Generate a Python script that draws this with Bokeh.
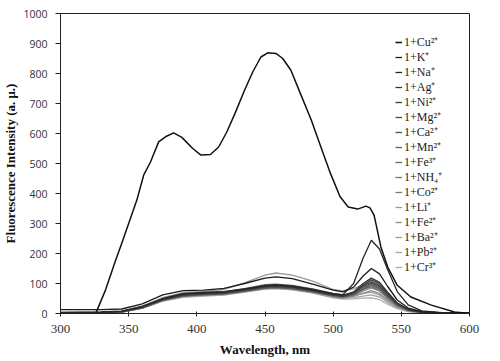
from bokeh.plotting import figure
from bokeh.models import Range1d, FixedTicker, Legend, LegendItem
from bokeh.embed import file_html
from bokeh.resources import INLINE

# ---- data ----
wl_big = [326, 333, 340, 345, 350, 356, 361, 366, 372, 377, 383, 389, 397, 403, 410, 416,
          422, 428, 435, 441, 447, 452, 458, 463, 469, 476, 484, 491, 498, 505, 511, 518,
          524, 527, 530, 535, 540, 547, 557, 572, 589, 600]
cu = [2, 78, 172, 235, 300, 378, 461, 505, 572, 589, 602, 587, 550, 528, 530, 555,
      605, 667, 744, 805, 855, 869, 867, 850, 811, 733, 644, 555, 467, 390, 355, 348,
      358, 352, 328, 222, 155, 94, 55, 28, 5, 0]

wl = [300, 330, 345, 360, 375, 390, 405, 420, 435, 450, 458, 470, 485, 500, 507, 515,
      522, 528, 534, 540, 547, 555, 565, 580, 600]
k_ = [13, 13, 15, 32, 62, 76, 78, 84, 100, 118, 122, 116, 98, 78, 72, 88, 125, 150, 132, 90, 45, 18, 6, 2, 0]
na = [4, 5, 8, 24, 50, 66, 70, 73, 82, 93, 95, 91, 80, 66, 62, 100, 185, 244, 215, 146, 73, 29, 9, 3, 0]
ag = [3, 4, 7, 22, 48, 64, 68, 71, 80, 91, 93, 89, 78, 64, 60, 72, 100, 118, 104, 71, 35, 14, 5, 2, 0]
ni = [3, 4, 7, 21, 47, 62, 66, 69, 79, 90, 92, 88, 77, 62, 58, 69, 95, 112, 99, 67, 34, 13, 4, 2, 0]
mg = [2, 3, 6, 20, 46, 61, 65, 68, 77, 88, 90, 86, 75, 61, 57, 67, 91, 106, 93, 64, 32, 13, 4, 1, 0]
ca = [2, 3, 6, 21, 47, 63, 67, 70, 81, 94, 96, 92, 80, 64, 60, 69, 89, 101, 89, 61, 30, 12, 4, 1, 0]
mn = [3, 4, 6, 20, 45, 60, 64, 67, 76, 86, 88, 84, 74, 60, 56, 64, 84, 97, 85, 58, 29, 12, 4, 1, 0]
fe3 = [2, 3, 5, 19, 44, 58, 62, 65, 74, 84, 86, 82, 72, 59, 55, 62, 80, 93, 82, 56, 28, 11, 4, 1, 0]
nh4 = [3, 4, 7, 22, 49, 66, 70, 73, 83, 96, 98, 94, 82, 67, 63, 69, 81, 89, 78, 53, 27, 11, 4, 1, 0]
co = [2, 3, 5, 19, 44, 59, 63, 66, 76, 87, 89, 85, 74, 58, 54, 60, 75, 85, 75, 51, 26, 10, 3, 1, 0]
li = [4, 5, 8, 25, 53, 70, 74, 80, 102, 128, 135, 128, 108, 80, 75, 82, 96, 105, 92, 63, 32, 13, 4, 1, 0]
fe2 = [2, 3, 5, 18, 43, 57, 61, 64, 73, 83, 85, 81, 71, 56, 52, 57, 68, 76, 67, 46, 23, 9, 3, 1, 0]
ba = [3, 4, 6, 20, 46, 62, 66, 69, 78, 89, 91, 87, 76, 61, 57, 60, 66, 71, 62, 43, 21, 9, 3, 1, 0]
pb = [2, 3, 5, 18, 42, 56, 60, 63, 72, 82, 84, 80, 70, 54, 50, 53, 58, 62, 55, 37, 19, 7, 2, 1, 0]
cr = [2, 3, 5, 17, 41, 54, 58, 61, 71, 81, 83, 79, 68, 52, 48, 49, 51, 52, 46, 31, 16, 6, 2, 1, 0]

labels = ["1+Cu²⁺", "1+K⁺", "1+Na⁺", "1+Ag⁺", "1+Ni²⁺", "1+Mg²⁺", "1+Ca²⁺", "1+Mn²⁺",
          "1+Fe³⁺", "1+NH₄⁺", "1+Co²⁺", "1+Li⁺", "1+Fe²⁺", "1+Ba²⁺", "1+Pb²⁺", "1+Cr³⁺"]
series = [cu, k_, na, ag, ni, mg, ca, mn, fe3, nh4, co, li, fe2, ba, pb, cr]
colors = ["#111111", "#1c1c1c", "#262626", "#333333", "#3d3d3d", "#474747", "#525252", "#5c5c5c",
          "#666666", "#707070", "#7a7a7a", "#9a9a9a", "#8f8f8f", "#999999", "#a3a3a3", "#adadad"]

x_ticks = [300, 350, 400, 450, 500, 550, 600]
y_ticks = [0, 100, 200, 300, 400, 500, 600, 700, 800, 900, 1000]

p = figure(width=500, height=361, output_backend="svg", toolbar_location=None,
           x_range=Range1d(300, 600), y_range=Range1d(0, 1000),
           min_border_left=58, min_border_right=31, min_border_top=13, min_border_bottom=48)
p.grid.visible = False
p.outline_line_color = "#222222"
p.outline_line_width = 1
p.background_fill_color = "white"

renderers = {}
for i in range(len(series) - 1, -1, -1):
    xs = wl_big if i == 0 else wl
    r = p.line(xs, series[i], line_color=colors[i], line_width=1.3 if i else 1.5)
    renderers[i] = r

# two interleaved legend columns (even / odd entries) to get a 15px row pitch
for start, loc in ((0, (335, 53)), (1, (335, 38))):
    items = [LegendItem(label=labels[i], renderers=[renderers[i]])
             for i in range(start, len(series), 2)]
    legend = Legend(items=items, location=loc)
    legend.glyph_width = 7
    legend.glyph_height = 12
    legend.label_height = 12
    legend.label_standoff = 2
    legend.spacing = 13
    legend.padding = 0
    legend.margin = 0
    legend.border_line_color = None
    legend.background_fill_alpha = 0
    legend.label_text_font = "Liberation Serif"
    legend.label_text_font_size = "12px"
    legend.label_text_color = "#222222"
    p.add_layout(legend)

xa = p.xaxis[0]
xa.ticker = FixedTicker(ticks=x_ticks)
xa.axis_label = "Wavelength, nm"
xa.axis_label_text_font = "Liberation Serif"
xa.axis_label_text_font_style = "bold"
xa.axis_label_text_font_size = "13px"
xa.axis_label_text_color = "#111111"
xa.axis_label_standoff = 6
xa.major_label_text_font = "Liberation Serif"
xa.major_label_text_font_size = "13px"
xa.major_label_text_color = "#333333"
xa.major_label_standoff = 8
xa.major_tick_in = 2
xa.major_tick_out = 3
xa.minor_tick_line_color = None
xa.axis_line_color = "#222222"
xa.major_tick_line_color = "#222222"

ya = p.yaxis[0]
ya.ticker = FixedTicker(ticks=y_ticks)
ya.axis_label = "Fluorescence Intensity (a. μ.)"
ya.axis_label_text_font = "Liberation Serif"
ya.axis_label_text_font_style = "bold"
ya.axis_label_text_font_size = "13px"
ya.axis_label_text_color = "#111111"
ya.axis_label_standoff = 2
ya.major_label_text_font = "Open Sans"
ya.major_label_text_font_size = "10.5px"
ya.major_label_text_color = "#333333"
ya.major_label_standoff = 8
ya.major_tick_in = 0
ya.major_tick_out = 5
ya.minor_tick_line_color = None
ya.axis_line_color = "#222222"
ya.major_tick_line_color = "#222222"

open("out.html", "w").write(file_html(p, INLINE))
